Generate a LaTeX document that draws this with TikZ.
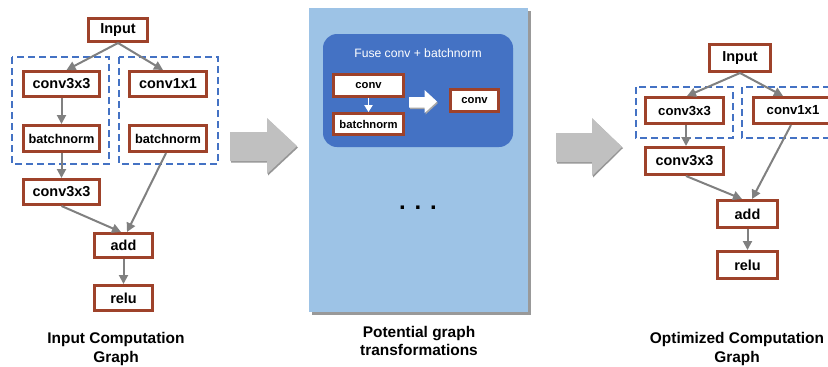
\documentclass[tikz,border=0pt]{standalone}
\usepackage{fontspec}
\setmainfont{Liberation Sans}
\usetikzlibrary{arrows.meta,calc}
\definecolor{boxbrown}{RGB}{158,66,42}
\definecolor{dashblue}{RGB}{68,114,196}
\definecolor{linkgray}{RGB}{128,128,128}
\definecolor{bigarrow}{RGB}{192,192,192}
\definecolor{bigshadow}{RGB}{150,150,150}
\definecolor{panelblue}{RGB}{157,195,230}
\definecolor{groupblue}{RGB}{68,114,196}

\begin{document}
\begin{tikzpicture}[x=1bp,y=-1bp,
  opbox/.style={draw=boxbrown, line width=3bp, fill=white, inner sep=0pt,
    font=\bfseries\fontsize{14.5}{17}\selectfont},
  smallop/.style={opbox, font=\bfseries\fontsize{12.8}{15}\selectfont},
  tinyop/.style={opbox, line width=2.8bp, font=\bfseries\fontsize{11.3}{13}\selectfont},
  grouping/.style={draw=dashblue, line width=2.6bp, dash pattern=on 7bp off 4bp},
  link/.style={draw=linkgray, line width=2bp, -{Triangle[length=9bp,width=9bp]}},
  caption/.style={align=center, font=\bfseries\fontsize{15.5}{18.5}\selectfont},
  blockarrow/.style={fill=bigarrow}
]
\useasboundingbox (0,0) rectangle (828,366);
\clip (0,0) rectangle (828,366);

% ---------------- input computation graph ----------------
\draw[grouping] (12,57) rectangle (109,164);
\draw[grouping] (119,57) rectangle (218,164);

\node[opbox, minimum width=59bp, minimum height=23bp] (in1) at (118,30) {Input};
\node[opbox, minimum width=76bp, minimum height=25bp] (c3a1) at (61.5,84) {conv3x3};
\node[smallop, minimum width=76bp, minimum height=26bp] (bna1) at (61.5,138.5) {batchnorm};
\node[opbox, minimum width=77bp, minimum height=25bp] (c11) at (168,84) {conv1x1};
\node[smallop, minimum width=77bp, minimum height=26bp] (bnb1) at (168,138.5) {batchnorm};
\node[opbox, minimum width=76bp, minimum height=25bp] (c3b1) at (61.5,192) {conv3x3};
\node[opbox, minimum width=58bp, minimum height=24bp] (add1) at (123.5,245.5) {add};
\node[opbox, minimum width=58bp, minimum height=25bp] (relu1) at (123.5,298) {relu};

\draw[link] (in1.south) -- ([xshift=5bp]c3a1.north);
\draw[link] (in1.south) -- ([xshift=-5bp]c11.north);
\draw[link] (c3a1) -- (bna1);
\draw[link] (bna1) -- (c3b1);
\draw[link] (c3b1.south) -- ([xshift=-2.5bp]add1.north);
\draw[link] ([xshift=-2bp]bnb1.south) -- ([xshift=3.5bp]add1.north);
\draw[link] (add1) -- (relu1);

\node[caption] (cap1) at (116,349) {Input Computation\\Graph};

% ---------------- first transition arrow ----------------
\fill[bigshadow] (231,133.5) -- (268,133.5) -- (268,119.5) -- (298,147.5) -- (268,175.5) -- (268,162.5) -- (231,162.5) -- cycle;
\fill[blockarrow] (230,132) -- (267,132) -- (267,118) -- (297,146) -- (267,174) -- (267,161) -- (230,161) -- cycle;

% ---------------- potential transformations ----------------
\fill[black!40] (312,11) rectangle (531,315);
\fill[panelblue] (309,8) rectangle (528,312);
\fill[groupblue, rounded corners=14bp] (323,34) rectangle (513,147);
\node[text=white, font=\fontsize{12.2}{14}\selectfont] (fuse) at (418,53) {Fuse conv + batchnorm};

\node[tinyop, minimum width=70bp, minimum height=22bp] (gconv) at (368.5,85.5) {conv};
\node[tinyop, minimum width=70bp, minimum height=21bp] (gbn) at (368.5,124) {batchnorm};
\node[tinyop, minimum width=48bp, minimum height=22bp] (gfused) at (474.5,100.5) {conv};
\draw[white, line width=1.8bp, -{Triangle[length=7bp,width=8bp]}] (gconv) -- (gbn);

\fill[black!35] (410,98.5) -- (425.5,98.5) -- (425.5,91.5) -- (438,103) -- (425.5,114.5) -- (425.5,109) -- (410,109) -- cycle;
\fill[white] (409,97) -- (424.5,97) -- (424.5,90) -- (437,101.5) -- (424.5,113) -- (424.5,107.5) -- (409,107.5) -- cycle;

\node[font=\bfseries\fontsize{24}{24}\selectfont] (more) at (418,208) {. . .};

\node[caption] (cap2) at (419,341) {Potential graph\\transformations};

% ---------------- second transition arrow ----------------
\fill[bigshadow] (557,134.5) -- (593,134.5) -- (593,119.5) -- (623,148) -- (593,177.5) -- (593,163.5) -- (557,163.5) -- cycle;
\fill[blockarrow] (556,133) -- (592,133) -- (592,118) -- (622,147) -- (592,176) -- (592,162) -- (556,162) -- cycle;

% ---------------- optimized computation graph ----------------
\draw[grouping] (636,87) rectangle (733,138);
\draw[grouping] (742,87) rectangle (845,138);

\node[opbox, minimum width=61bp, minimum height=27bp] (in2) at (740,58) {Input};
\node[opbox, font=\bfseries\fontsize{13.2}{15}\selectfont, minimum width=78bp, minimum height=26bp] (c3a2) at (684.5,110.5) {conv3x3};
\node[opbox, font=\bfseries\fontsize{13.2}{15}\selectfont, minimum width=79bp, minimum height=26bp] (c12) at (793,110.5) {conv1x1};
\node[opbox, minimum width=78bp, minimum height=27bp] (c3b2) at (684.5,161) {conv3x3};
\node[opbox, minimum width=60bp, minimum height=27bp] (add2) at (747.5,214) {add};
\node[opbox, minimum width=60bp, minimum height=27bp] (relu2) at (747.5,265) {relu};

\draw[link] (in2.south) -- ([xshift=2.5bp]c3a2.north);
\draw[link] (in2.south) -- ([xshift=-10bp]c12.north);
\draw[link] ([xshift=1.5bp]c3a2.south) -- ([xshift=1.5bp]c3b2.north);
\draw[link] ([xshift=1.5bp]c3b2.south) -- ([xshift=-5.5bp]add2.north);
\draw[link] ([xshift=-2bp]c12.south) -- ([xshift=4.5bp]add2.north);
\draw[link] (add2) -- (relu2);

\node[caption] (cap3) at (737,349) {Optimized Computation\\Graph};
\end{tikzpicture}
\end{document}
